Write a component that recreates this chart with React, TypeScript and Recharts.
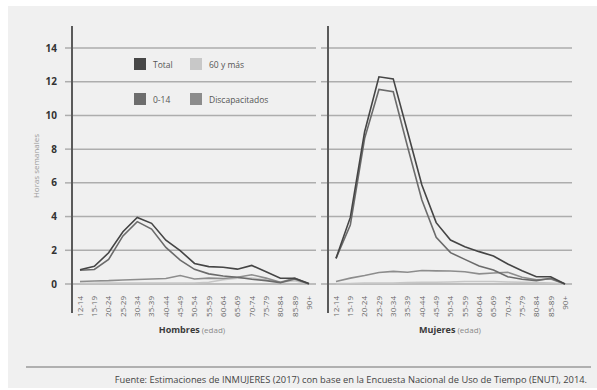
import React from 'react';
import { LineChart, Line, XAxis, YAxis, CartesianGrid } from 'recharts';

const ages = ['12-14', '15-19', '20-24', '25-29', '30-34', '35-39', '40-44', '45-49', '50-54',
  '55-59', '60-64', '65-69', '70-74', '75-79', '80-84', '85-89', '90+'];
const yTicks = [0, 2, 4, 6, 8, 10, 12, 14];

// Hombres
const hTotal = [0.85, 1.05, 1.85, 3.1, 3.95, 3.6, 2.6, 1.98, 1.22, 1.03, 0.99, 0.88, 1.1, 0.73, 0.34, 0.34, 0.03];
const hNinos = [0.82, 0.86, 1.46, 2.85, 3.7, 3.26, 2.17, 1.42, 0.87, 0.6, 0.47, 0.4, 0.28, 0.2, 0.08, 0.3, 0];
const hMayores = [0.04, 0.04, 0.05, 0.05, 0.05, 0.05, 0.05, 0.05, 0.06, 0.1, 0.25, 0.35, 0.35, 0.25, 0.1, 0.2, 0];
const hDiscap = [0.15, 0.18, 0.2, 0.24, 0.27, 0.3, 0.33, 0.5, 0.3, 0.35, 0.33, 0.4, 0.55, 0.35, 0.1, 0.35, 0];

// Mujeres
const mTotal = [1.52, 3.95, 9.03, 12.29, 12.17, 9.03, 5.87, 3.64, 2.61, 2.21, 1.92, 1.66, 1.19, 0.79, 0.43, 0.43, 0];
const mNinos = [1.52, 3.5, 8.64, 11.54, 11.4, 8.14, 4.98, 2.77, 1.86, 1.46, 1.07, 0.83, 0.43, 0.28, 0.2, 0.34, 0];
const mMayores = [0.02, 0.03, 0.05, 0.05, 0.05, 0.08, 0.1, 0.1, 0.12, 0.15, 0.15, 0.15, 0.12, 0.1, 0.08, 0.05, 0];
const mDiscap = [0.15, 0.35, 0.5, 0.68, 0.75, 0.7, 0.8, 0.78, 0.77, 0.73, 0.6, 0.65, 0.7, 0.4, 0.25, 0.3, 0];

const FONT = '"Open Sans", sans-serif';

const series = [
  { key: 'mayores', name: '60 y más', color: '#c6c6c6' },
  { key: 'discap', name: 'Discapacitados', color: '#8d8d8d' },
  { key: 'ninos', name: '0-14', color: '#6b6b6b' },
  { key: 'total', name: 'Total', color: '#454545' },
];

const buildRows = (total: number[], ninos: number[], mayores: number[], discap: number[]) =>
  ages.map((age, i) => ({ age, total: total[i], ninos: ninos[i], mayores: mayores[i], discap: discap[i] }));

const hombres = buildRows(hTotal, hNinos, hMayores, hDiscap);
const mujeres = buildRows(mTotal, mNinos, mMayores, mDiscap);

const AgeTick = ({ x, y, payload }: any) => (
  <g transform={`translate(${x},${y})`}>
    <text transform="rotate(-90)" textAnchor="end" dy="0.35em" fontSize={8} fill="#666" fontFamily={FONT}>
      {payload.value}
    </text>
  </g>
);

const Panel = ({ data, showLabels }: { data: any[]; showLabels: boolean }) => (
  <LineChart
    width={showLabels ? 308 : 264}
    height={318}
    data={data}
    margin={{ top: 42, right: 0, bottom: 0, left: 0 }}
  >
    <CartesianGrid vertical={false} stroke="#adadad" strokeWidth={1.5} />
    <XAxis
      dataKey="age"
      interval={0}
      tickLine={false}
      axisLine={false}
      padding={{ left: 8, right: 7 }}
      height={40}
      tickMargin={6}
      tick={<AgeTick />}
    />
    <YAxis
      width={showLabels ? 64 : 20}
      domain={[0, 14]}
      ticks={yTicks}
      axisLine={false}
      tickSize={7}
      tickMargin={8}
      tickLine={{ stroke: '#adadad', strokeWidth: 1.5 }}
      tick={showLabels ? { fill: '#333', fontSize: 10, fontWeight: 'bold', fontFamily: FONT } : () => <g />}
    />
    {series.map((s) => (
      <Line
        key={s.key}
        type="linear"
        dataKey={s.key}
        name={s.name}
        stroke={s.color}
        strokeWidth={1.6}
        dot={false}
        isAnimationActive={false}
      />
    ))}
  </LineChart>
);

const legendItems = [
  { name: 'Total', color: '#474747', x: 134, y: 58 },
  { name: '60 y más', color: '#c8c8c8', x: 190, y: 58 },
  { name: '0-14', color: '#6d6d6d', x: 134, y: 93 },
  { name: 'Discapacitados', color: '#8c8c8c', x: 190, y: 93 },
];

export default function App() {
  return (
    <div style={{ position: 'absolute', left: 0, top: 0, width: 597, height: 390, background: '#fff', fontFamily: FONT }}>
      <div style={{ position: 'absolute', left: 8, top: 6, width: 589, height: 382, background: '#f0f0f0' }} />

      <div style={{ position: 'absolute', left: 8, top: 6 }}>
        <Panel data={hombres} showLabels />
      </div>
      <div style={{ position: 'absolute', left: 308, top: 6 }}>
        <Panel data={mujeres} showLabels={false} />
      </div>

      {/* panel divider axes */}
      <div style={{ position: 'absolute', left: 71, top: 26, width: 1.5, height: 287, background: '#5a5a5a' }} />
      <div style={{ position: 'absolute', left: 327, top: 26, width: 1.5, height: 287, background: '#5a5a5a' }} />

      <div
        style={{
          position: 'absolute', left: 35, top: 166, transform: 'translate(-50%, -50%) rotate(-90deg)',
          fontSize: 8, color: '#9a9a9a', whiteSpace: 'nowrap',
        }}
      >
        Horas semanales
      </div>

      {legendItems.map((l) => (
        <div key={l.name} style={{ position: 'absolute', left: l.x, top: l.y, display: 'flex', alignItems: 'center', whiteSpace: 'nowrap' }}>
          <div style={{ width: 12, height: 12, background: l.color }} />
          <span style={{ marginLeft: 7, fontSize: 8.5, color: '#555' }}>{l.name}</span>
        </div>
      ))}

      <div style={{ position: 'absolute', left: 192, top: 327, transform: 'translate(-50%, -50%)', whiteSpace: 'nowrap' }}>
        <span style={{ fontSize: 9, fontWeight: 'bold', color: '#3a3a3a' }}>Hombres</span>
        <span style={{ fontSize: 8, color: '#8a8a8a' }}> (edad)</span>
      </div>
      <div style={{ position: 'absolute', left: 450, top: 327, transform: 'translate(-50%, -50%)', whiteSpace: 'nowrap' }}>
        <span style={{ fontSize: 9, fontWeight: 'bold', color: '#3a3a3a' }}>Mujeres</span>
        <span style={{ fontSize: 8, color: '#8a8a8a' }}> (edad)</span>
      </div>

      <div style={{ position: 'absolute', left: 26, top: 366, width: 565, height: 1.5, background: '#b0b0b0' }} />
      <div style={{ position: 'absolute', right: 10, top: 373, fontSize: 9.3, color: '#444', whiteSpace: 'nowrap' }}>
        Fuente: Estimaciones de INMUJERES (2017) con base en la Encuesta Nacional de Uso de Tiempo (ENUT), 2014.
      </div>
    </div>
  );
}
